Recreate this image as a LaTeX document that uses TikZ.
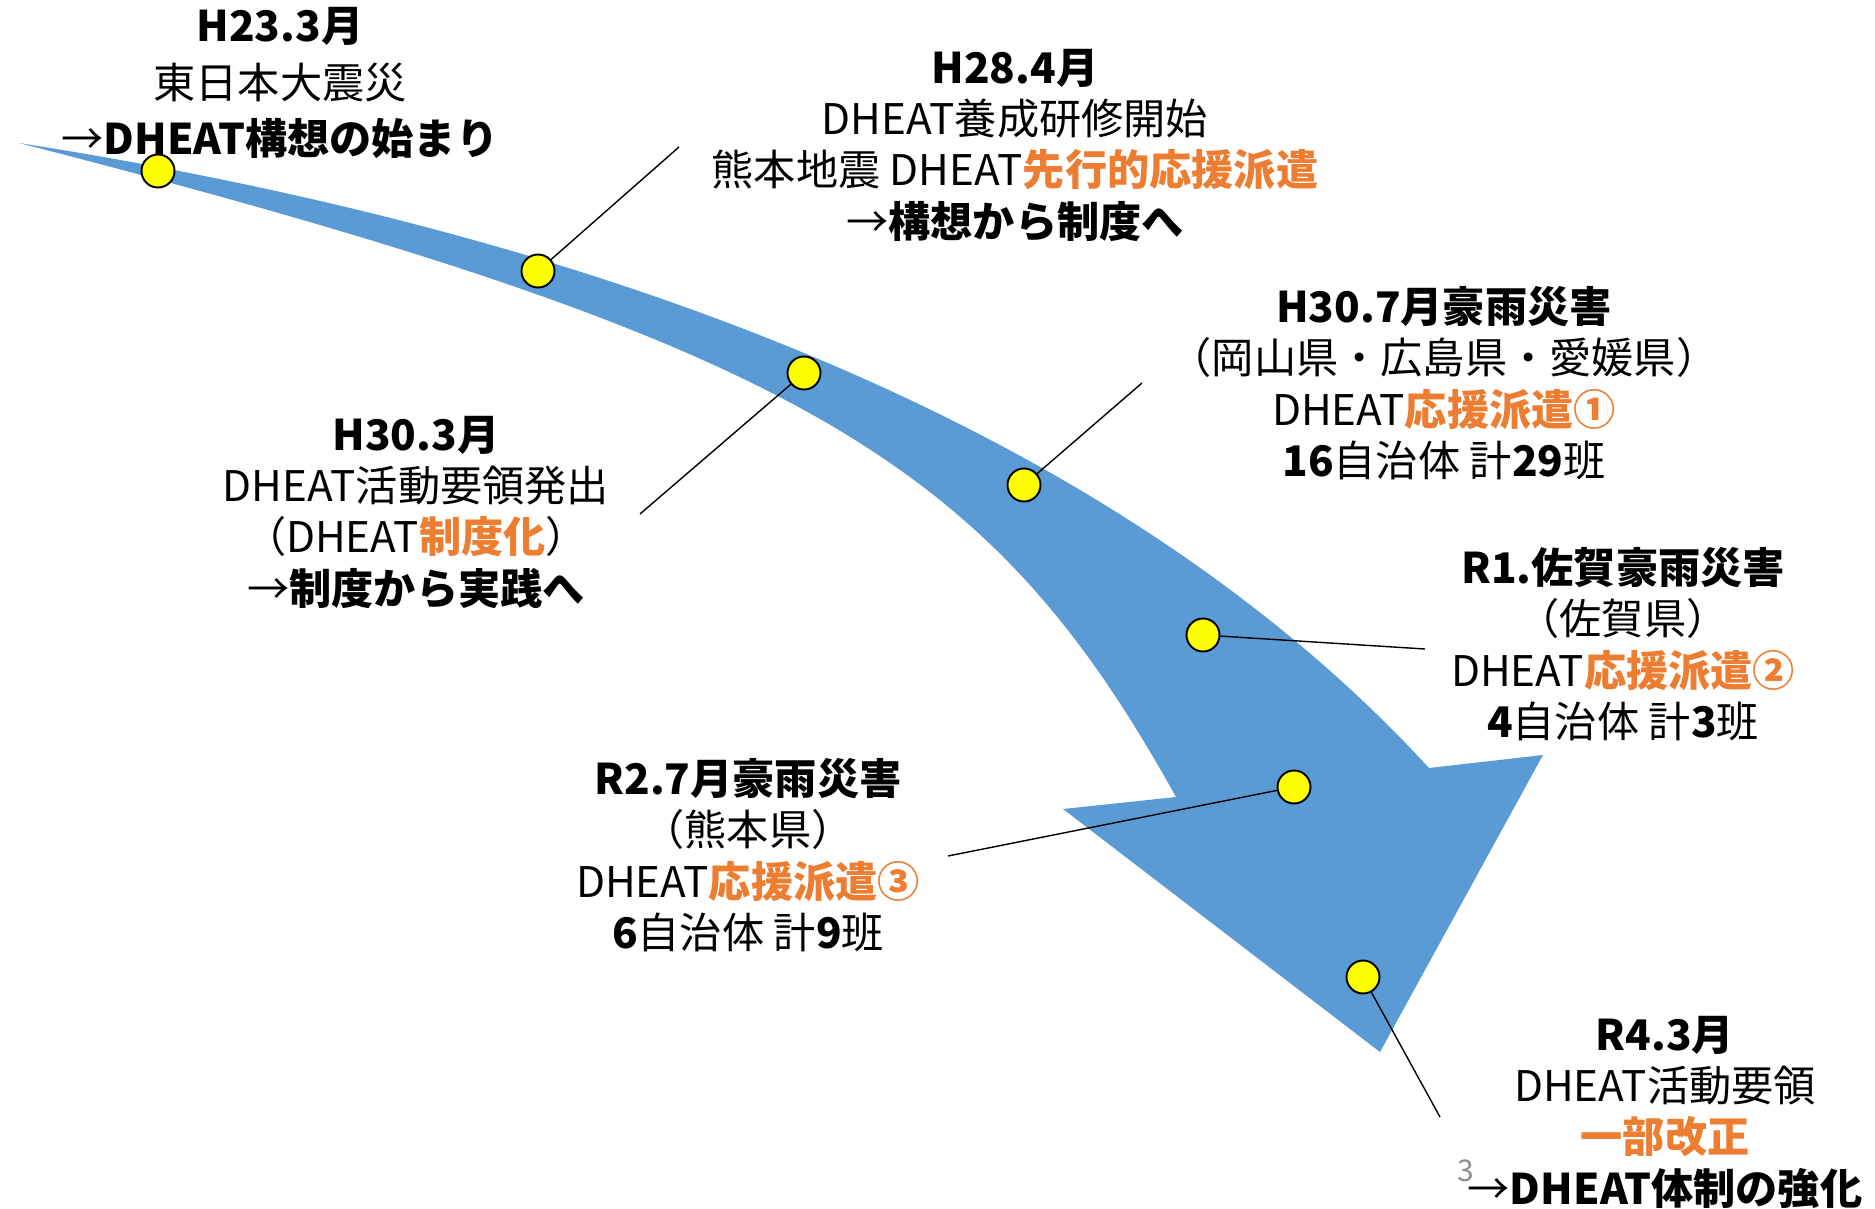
\documentclass[tikz,border=0pt]{standalone}
\usepackage{fontspec}
\setmainfont{Noto Sans CJK JP}
\definecolor{arrowblue}{HTML}{5B9BD5}
\definecolor{accent}{HTML}{ED7D31}
\definecolor{dotyellow}{HTML}{FFFF00}
\definecolor{pagegray}{HTML}{8C8C8C}
\newcommand{\hl}[1]{\textcolor{accent}{\textbf{#1}}}
\tikzset{
  dot/.style={circle, draw=black, line width=0.55pt, fill=dotyellow, minimum size=0.33cm, inner sep=0pt},
  leader/.style={draw=black, line width=0.4pt},
  label/.style={align=center, inner sep=0pt, font=\fontsize{12}{14.6}\selectfont},
  widelabel/.style={align=center, inner sep=0pt, font=\fontsize{12}{16.2}\selectfont},
}
\begin{document}
\begin{tikzpicture}[x=0.01cm,y=-0.01cm]
\useasboundingbox (0,0) rectangle (1875,1209);
% big curved arrow
\fill[arrowblue]
  (19,143) .. controls (658,243) and (1140,453) .. (1429,768)
  -- (1543,755) -- (1380,1052) -- (1063,809) -- (1176,797)
  .. controls (991,464) and (806,345) .. (19,143)
  -- cycle;
% event dots
\node[dot] (d1) at (158,171) {};
\node[dot] (d2) at (538,271) {};
\node[dot] (d3) at (804,373) {};
\node[dot] (d4) at (1024,485) {};
\node[dot] (d5) at (1203,635) {};
\node[dot] (d6) at (1294,787) {};
\node[dot] (d7) at (1363,977) {};
% free ends of leader lines
\coordinate (e2) at (679,147);
\coordinate (e3) at (640,514);
\coordinate (e4) at (1142,383);
\coordinate (e5) at (1425,649);
\coordinate (e6) at (948,856);
\coordinate (e7) at (1440,1117);
\draw[leader] (d2) -- (e2);
\draw[leader] (d3) -- (e3);
\draw[leader] (d4) -- (e4);
\draw[leader] (d5) -- (e5);
\draw[leader] (d6) -- (e6);
\draw[leader] (d7) -- (e7);
% labels
\node[widelabel] (t1) at (280,83) {\textbf{H23.3月}\\東日本大震災\\→\textbf{DHEAT構想の始まり}};
\node[label] (t2) at (1015,145) {\textbf{H28.4月}\\DHEAT養成研修開始\\熊本地震 DHEAT\hl{先行的応援派遣}\\→\textbf{構想から制度へ}};
\node[label] (t3) at (416,512) {\textbf{H30.3月}\\DHEAT活動要領発出\\（DHEAT\hl{制度化}）\\→\textbf{制度から実践へ}};
\node[label] (t4) at (1444,383) {\textbf{H30.7月豪雨災害}\\（岡山県・広島県・愛媛県）\\DHEAT\hl{応援派遣①}\\\textbf{16}自治体 計\textbf{29}班};
\node[label] (t5) at (1623,644) {\textbf{R1.佐賀豪雨災害}\\（佐賀県）\\DHEAT\hl{応援派遣②}\\\textbf{4}自治体 計\textbf{3}班};
\node[label] (t6) at (748,855) {\textbf{R2.7月豪雨災害}\\（熊本県）\\DHEAT\hl{応援派遣③}\\\textbf{6}自治体 計\textbf{9}班};
\node[label] (t7) at (1665,1112) {\textbf{R4.3月}\\DHEAT活動要領\\\hl{一部改正}\\→\textbf{DHEAT体制の強化}};
\node[inner sep=0pt, text=pagegray, font=\fontsize{8.5}{10}\selectfont] (pg) at (1466,1171) {3};
\end{tikzpicture}
\end{document}
